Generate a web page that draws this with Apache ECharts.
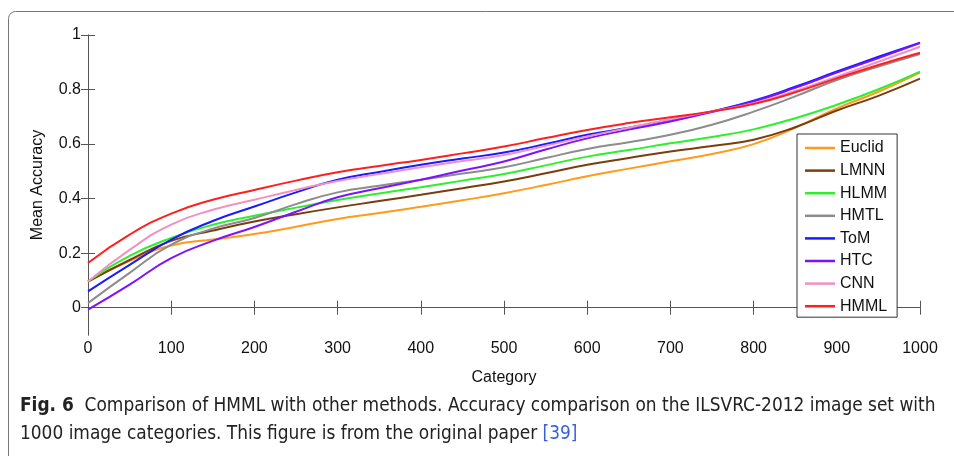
<!DOCTYPE html>
<html>
<head>
<meta charset="utf-8">
<script src="https://cdn.jsdelivr.net/npm/echarts@6/dist/echarts.min.js"></script>
<style>
  html, body { margin: 0; padding: 0; background: #fff; }
  #main { width: 954px; height: 456px; }
</style>
</head>
<body>
<div id="main"></div>
<script>
// category positions (x) where the curves were read, every 50 categories
const categories = [0, 50, 100, 150, 200, 250, 300, 350, 400, 450, 500,
                    550, 600, 650, 700, 750, 800, 850, 900, 950, 1000];

const euclid = [0.096, 0.172, 0.228, 0.250, 0.270, 0.297, 0.325, 0.347, 0.370, 0.394, 0.420,
                0.450, 0.482, 0.510, 0.537, 0.564, 0.600, 0.660, 0.731, 0.792, 0.862];
const lmnn   = [0.096, 0.175, 0.245, 0.283, 0.316, 0.343, 0.368, 0.391, 0.414, 0.438, 0.463,
                0.493, 0.524, 0.549, 0.573, 0.593, 0.616, 0.662, 0.723, 0.777, 0.840];
const hlmm   = [0.096, 0.190, 0.256, 0.304, 0.337, 0.367, 0.395, 0.419, 0.442, 0.466, 0.490,
                0.522, 0.554, 0.578, 0.603, 0.626, 0.654, 0.695, 0.744, 0.801, 0.866];
const hmtl   = [0.017, 0.128, 0.231, 0.290, 0.329, 0.380, 0.423, 0.447, 0.469, 0.492, 0.515,
                0.549, 0.582, 0.607, 0.634, 0.671, 0.719, 0.775, 0.835, 0.884, 0.930];
const tom    = [0.060, 0.157, 0.250, 0.318, 0.371, 0.423, 0.469, 0.498, 0.524, 0.547, 0.569,
                0.600, 0.634, 0.660, 0.689, 0.720, 0.759, 0.810, 0.866, 0.920, 0.972];
const htc    = [-0.007, 0.085, 0.182, 0.245, 0.296, 0.352, 0.405, 0.438, 0.469, 0.503, 0.536,
                0.580, 0.621, 0.653, 0.683, 0.718, 0.756, 0.806, 0.862, 0.915, 0.970];
const cnn    = [0.096, 0.212, 0.305, 0.359, 0.396, 0.432, 0.465, 0.490, 0.515, 0.538, 0.560,
                0.594, 0.628, 0.660, 0.691, 0.720, 0.750, 0.795, 0.847, 0.902, 0.957];
const hmml   = [0.164, 0.268, 0.345, 0.396, 0.432, 0.466, 0.497, 0.520, 0.542, 0.566, 0.591,
                0.622, 0.652, 0.677, 0.698, 0.720, 0.747, 0.790, 0.841, 0.890, 0.935];

const yTicks = [0, 0.2, 0.4, 0.6, 0.8, 1];

const seriesList = [
    { name: 'Euclid', data: euclid, color: '#ff9a1a' },
    { name: 'LMNN', data: lmnn, color: '#7a3d0e' },
    { name: 'HLMM', data: hlmm, color: '#2cf02c' },
    { name: 'HMTL', data: hmtl, color: '#8c8c8c' },
    { name: 'ToM', data: tom, color: '#1a1aff' },
    { name: 'HTC', data: htc, color: '#7d12ff' },
    { name: 'CNN', data: cnn, color: '#f091c4' },
    { name: 'HMML', data: hmml, color: '#ff1f1f' }
];

const chart = echarts.init(document.getElementById('main'));
const axisColor = '#555';
const font = 'Liberation Sans, Arial, sans-serif';
const capFont = 'DejaVu Sans Condensed, sans-serif';

const option = {
    animation: false,
    grid: { left: 88, right: 34, top: 35, bottom: 121 },
    legend: {
        orient: 'vertical',
        left: 797,
        top: 134,
        padding: [6, 10, 3, 8],
        icon: 'rect',
        itemWidth: 30,
        itemHeight: 2.5,
        itemGap: 6.6,
        backgroundColor: '#fff',
        borderColor: '#333',
        borderWidth: 1,
        borderRadius: 0,
        textStyle: { fontFamily: font, fontSize: 16, lineHeight: 16, color: '#111' },
        data: seriesList.map(s => s.name)
    },
    xAxis: [{
        type: 'value', min: 0, max: 1000, interval: 100,
        name: 'Category', nameLocation: 'middle', nameGap: 35,
        nameTextStyle: { fontFamily: font, fontSize: 16, color: '#111' },
        axisLine: { lineStyle: { color: axisColor, width: 1 } },
        axisTick: { inside: true, length: 7, lineStyle: { color: axisColor } },
        axisLabel: { fontFamily: font, fontSize: 16, color: '#111', margin: 6, formatter: v => String(v) },
        splitLine: { show: false }
    }, {
        type: 'value', min: 0, max: 1000, interval: 100, position: 'top',
        axisLine: { show: true, lineStyle: { color: axisColor, width: 1 } },
        axisTick: { inside: true, length: 7, lineStyle: { color: axisColor } },
        axisLabel: { show: false },
        splitLine: { show: false }
    }],
    yAxis: [{
        type: 'value', min: -0.1, max: 1,
        name: 'Mean Accuracy', nameLocation: 'middle', nameGap: 42,
        nameTextStyle: { fontFamily: font, fontSize: 16, color: '#111' },
        axisLine: { show: true, lineStyle: { color: axisColor, width: 1 } },
        axisTick: { inside: true, length: 7, customValues: yTicks, lineStyle: { color: axisColor } },
        axisLabel: {
            fontFamily: font, fontSize: 16, color: '#111', margin: 7,
            customValues: yTicks,
            formatter: v => String(Math.round(v * 10) / 10)
        },
        splitLine: { show: false }
    }, {
        type: 'value', min: -0.1, max: 1, position: 'right',
        axisLine: { show: true, lineStyle: { color: axisColor, width: 1 } },
        axisTick: { inside: true, length: 7, customValues: yTicks, lineStyle: { color: axisColor } },
        axisLabel: { show: false },
        splitLine: { show: false }
    }],
    series: seriesList.map(s => ({
        name: s.name,
        type: 'line',
        smooth: 0.5,
        symbol: 'none',
        color: s.color,
        lineStyle: { color: s.color, width: 2 },
        data: categories.map((c, i) => [c, s.data[i]])
    })),
    graphic: [
        {
            type: 'rect',
            shape: { x: 8.5, y: 11.5, width: 1000, height: 500, r: 7 },
            style: { fill: 'none', stroke: '#777', lineWidth: 1 },
            silent: true, z: -10
        },
        {
            type: 'text',
            left: 20, top: 392,
            style: {
                text: '{b|Fig. 6}  Comparison of HMML with other methods. Accuracy comparison on the ILSVRC-2012 image set with\n1000 image categories. This figure is from the original paper {l|[39]}',
                fontFamily: capFont,
                fontSize: 18.9,
                lineHeight: 28,
                fill: '#222',
                rich: {
                    b: { fontWeight: 'bold', fontFamily: capFont, fontSize: 18.9, fill: '#222' },
                    l: { fontFamily: capFont, fontSize: 18.9, fill: '#3a5fd9' }
                }
            }
        }
    ]
};

chart.setOption(option);
</script>
</body>
</html>
